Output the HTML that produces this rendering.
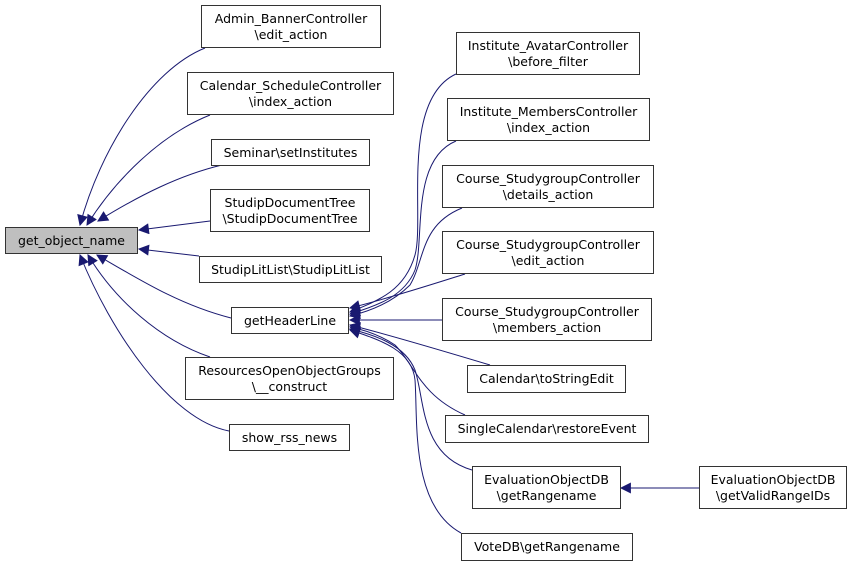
<!DOCTYPE html>
<html><head><meta charset="utf-8"><style>
body{margin:0;background:#fff;width:856px;height:565px;overflow:hidden;position:relative;font-family:"DejaVu Sans","Liberation Sans",sans-serif;}
.b{position:absolute;box-sizing:border-box;border:1px solid #333;background:#fff;font-size:12.5px;line-height:16px;text-align:center;display:flex;flex-direction:column;justify-content:center;color:#000;white-space:nowrap}
svg{position:absolute;left:0;top:0}
</style></head><body>
<svg width="856" height="565" viewBox="0 0 856 565">
<defs><marker id="a" viewBox="0 0 10 10" refX="9" refY="5" markerWidth="12" markerHeight="11" markerUnits="userSpaceOnUse" orient="auto"><path d="M0,0 L10,5 L0,10z" fill="#191970"/></marker></defs>
<g fill="none" stroke="#191970" stroke-width="1" marker-end="url(#a)">
<path d="M205,48 C150,70 100,150 80,225"/>
<path d="M210,115 C160,135 115,180 87,225"/>
<path d="M222,165 C180,175 140,195 98,221"/>
<path d="M210,221 L139,230"/>
<path d="M199,256 L139,249"/>
<path d="M231,318 C180,305 140,280 97,255"/>
<path d="M210,357 C160,340 115,300 88,255"/>
<path d="M229,431 C170,420 110,330 80,255"/>
<path d="M456,74 C400,100 425,220 415,255 C405,290 380,300 350,312"/>
<path d="M456,141 C410,160 425,240 415,270 C405,295 380,305 350,314"/>
<path d="M462,208 C420,225 425,260 410,285 C395,300 375,310 350,316"/>
<path d="M465,274 C430,285 390,298 350,308"/>
<path d="M442,320 L350,320"/>
<path d="M490,365 C440,350 390,335 350,325"/>
<path d="M465,415 C420,395 415,365 395,345 C380,335 365,330 350,327"/>
<path d="M472,470 C420,455 425,400 415,370 C405,345 375,335 350,329"/>
<path d="M461,533 C410,505 418,420 415,380 C412,350 380,340 350,330"/>
<path d="M699,488 L621,488"/>
</g>
</svg>
<div class="b" style="left:5px;top:227px;width:133px;height:27px;background:#bfbfbf">get_object_name</div>
<div class="b" style="left:201px;top:5px;width:180px;height:43px">Admin_BannerController<br>\edit_action</div>
<div class="b" style="left:187px;top:72px;width:207px;height:43px">Calendar_ScheduleController<br>\index_action</div>
<div class="b" style="left:211px;top:139px;width:159px;height:27px">Seminar\setInstitutes</div>
<div class="b" style="left:210px;top:189px;width:160px;height:43px">StudipDocumentTree<br>\StudipDocumentTree</div>
<div class="b" style="left:199px;top:256px;width:183px;height:27px">StudipLitList\StudipLitList</div>
<div class="b" style="left:231px;top:307px;width:118px;height:27px">getHeaderLine</div>
<div class="b" style="left:185px;top:357px;width:209px;height:43px">ResourcesOpenObjectGroups<br>\__construct</div>
<div class="b" style="left:229px;top:424px;width:121px;height:27px">show_rss_news</div>
<div class="b" style="left:456px;top:32px;width:184px;height:43px">Institute_AvatarController<br>\before_filter</div>
<div class="b" style="left:447px;top:98px;width:203px;height:43px">Institute_MembersController<br>\index_action</div>
<div class="b" style="left:442px;top:165px;width:212px;height:43px">Course_StudygroupController<br>\details_action</div>
<div class="b" style="left:442px;top:231px;width:212px;height:43px">Course_StudygroupController<br>\edit_action</div>
<div class="b" style="left:442px;top:298px;width:210px;height:43px">Course_StudygroupController<br>\members_action</div>
<div class="b" style="left:467px;top:365px;width:159px;height:28px">Calendar\toStringEdit</div>
<div class="b" style="left:445px;top:415px;width:204px;height:28px">SingleCalendar\restoreEvent</div>
<div class="b" style="left:472px;top:466px;width:149px;height:43px">EvaluationObjectDB<br>\getRangename</div>
<div class="b" style="left:699px;top:466px;width:148px;height:43px">EvaluationObjectDB<br>\getValidRangeIDs</div>
<div class="b" style="left:461px;top:533px;width:172px;height:28px">VoteDB\getRangename</div>
</body></html>
